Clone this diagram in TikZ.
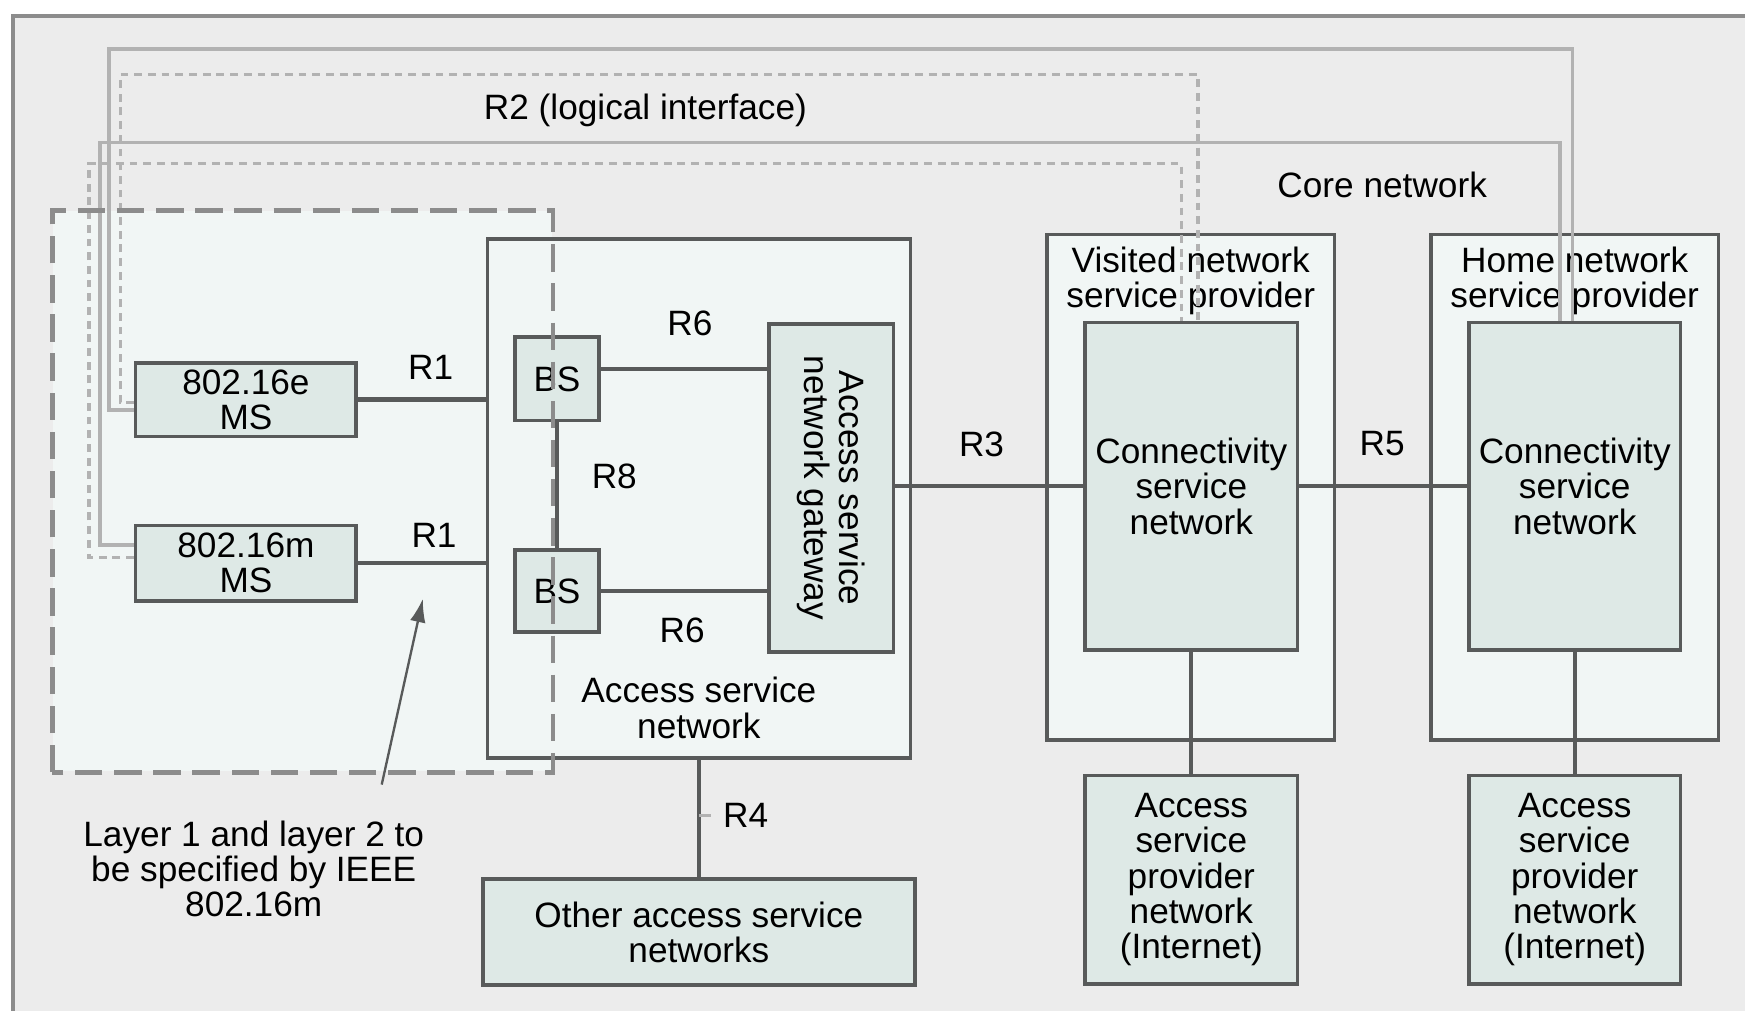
\documentclass[tikz,border=0pt]{standalone}
\usepackage{fontspec}
\setmainfont{Liberation Sans}
\definecolor{main}{RGB}{236,236,236}
\definecolor{second}{RGB}{241,246,245}
\definecolor{third}{RGB}{222,233,230}
\definecolor{fourth}{RGB}{88,90,90}
\definecolor{fifth}{RGB}{178,178,178}
\definecolor{sixth}{RGB}{140,140,140}
\usetikzlibrary{
	arrows.meta,
	positioning
}
\tikzset{
  % frame
	cstframe/.style   ={draw=sixth,line width=1pt},
  % boxes
	cstcont/.style    ={fill=second,draw=fourth,line width=0.9pt,inner sep=0pt},
	cstnode/.style    ={fill=third,draw=fourth,line width=0.9pt,align=center,inner sep=0pt},
	csttext/.style    ={align=center,inner sep=1pt},
  % lines
	cstlink/.style    ={draw=fourth,line width=1.1pt},
	cstloop/.style    ={draw=fifth,line width=1pt},
	cstloopd/.style   ={draw=fifth,line width=0.8pt,dash pattern=on 2pt off 1.5pt},
	cstlayer/.style   ={draw=sixth,line width=1.2pt,dash pattern=on 7pt off 3pt},
	csttick/.style    ={draw=fifth,line width=0.8pt},
	cstra/.style      ={-{Latex[length=6pt,width=4pt]},draw=fourth,line width=0.6pt},
	every node/.append style={font=\fontsize{9}{9}\selectfont}
}
\begin{document}
\begin{tikzpicture}[x=0.01cm,y=-0.01cm]
	\useasboundingbox (0,0) rectangle (1568,908);
	\fill[main] (12,14) rectangle (1568,908);
	\draw[cstframe] (12,908) -- (12,14) -- (1568,14);

	% layer 1 and 2 area
	\node[fill=second,minimum width=4.48cm,minimum height=5.03cm,inner sep=0pt] (layer) at (272,441.5) {};

	% access service network
	\node[cstcont,minimum width=3.80cm,minimum height=4.66cm] (asn) at (628,448) {};
	\node[csttext] (asntext) at (628,636) {Access service\\network};
	\node[cstnode,minimum width=0.75cm,minimum height=0.75cm] (bs1) at (500.5,340.5) {BS};
	\node[cstnode,minimum width=0.75cm,minimum height=0.74cm] (bs2) at (500.5,531) {BS};
	\node[cstnode,minimum width=1.12cm,minimum height=2.95cm] (gw) at (747,438.5) {};
	\node[csttext,rotate=-90] (gwtext) at (gw) {Access service\\network gateway};

	% mobile stations
	\node[cstnode,minimum width=1.98cm,minimum height=0.66cm] (ms1) at (221,359) {802.16e\\MS};
	\node[cstnode,minimum width=1.98cm,minimum height=0.68cm] (ms2) at (221,506) {802.16m\\MS};

	% network service providers
	\node[cstcont,minimum width=2.58cm,minimum height=4.54cm] (vnsp) at (1070,438) {};
	\node[csttext,below=0.08cm of vnsp.north] (vnsptext) {Visited network\\service provider};
	\node[cstnode,minimum width=1.91cm,minimum height=2.94cm] (vcsn) at (1070.5,437) {Connectivity\\service\\network};
	\node[cstcont,minimum width=2.58cm,minimum height=4.54cm] (hnsp) at (1415,438) {};
	\node[csttext,below=0.08cm of hnsp.north] (hnsptext) {Home network\\service provider};
	\node[cstnode,minimum width=1.90cm,minimum height=2.94cm] (hcsn) at (1415,437) {Connectivity\\service\\network};

	% lower boxes
	\node[cstnode,minimum width=1.91cm,minimum height=1.87cm] (vasp) at (1070.5,790.5) {Access\\service\\provider\\network\\(Internet)};
	\node[cstnode,minimum width=1.90cm,minimum height=1.87cm] (hasp) at (1415,790.5) {Access\\service\\provider\\network\\(Internet)};
	\node[cstnode,minimum width=3.88cm,minimum height=0.95cm] (other) at (628,837.5) {Other access service\\networks};

	% reference points
	\draw[cstlink] (ms1.east) -- (ms1.east -| asn.west);
	\draw[cstlink] (ms2.east) -- (ms2.east -| asn.west);
	\draw[cstlink] ([yshift=0.09cm]bs1.east) -- ([yshift=0.09cm]bs1.east -| gw.west);
	\draw[cstlink] (bs2.east) -- (bs2.east -| gw.west);
	\draw[cstlink] (vcsn.west -| gw.east) -- (vcsn.west);
	\draw[cstlink] (vcsn.east) -- (hcsn.west);
	\draw[cstlink] (vcsn.south) -- (vasp.north);
	\draw[cstlink] (hcsn.south) -- (hasp.north);
	\draw[cstlink] (asn.south) -- (other.north);

	\node[csttext] (r1a) at (387,330) {R1};
	\node[csttext] (r1b) at (390,481) {R1};
	\node[csttext] (r6a) at (620,291) {R6};
	\node[csttext] (r6b) at (613,566) {R6};
	\node[csttext] (r8) at (552,428) {R8};
	\node[csttext] (r3) at (882,399) {R3};
	\node[csttext] (r5) at (1242,399) {R5};
	\node[csttext] (r4) at (670,733) {R4};
	\draw[csttick,shorten <=2pt] (r4.west) -- (r4.west -| asn.south);

	% R2 loops
	\draw[cstloop] ([yshift=-0.09cm]ms1.west) -| (98,44) -| ([xshift=-0.02cm]hcsn.north);
	\draw[cstloopd] ([yshift=-0.03cm]ms1.west) -| (108,67) -| ([xshift=0.06cm]vcsn.north);
	\draw[cstloop] ([yshift=0.16cm]ms2.west) -| (90,128) -| ([xshift=-0.13cm]hcsn.north);
	\draw[cstloopd] ([yshift=0.05cm]ms2.west) -| (80,147) -| ([xshift=-0.09cm]vcsn.north);
	\node[csttext] (r2) at (580,99) {R2 (logical interface)};
	\node[csttext] (core) at (1242,166) {Core network};

	% layer border
	\draw[cstlayer] (layer.south west) rectangle (layer.north east);
	\draw[cstlink] (bs1) -- (bs2);

	% note
	\node[csttext] (note) at (228,781) {Layer 1 and layer 2 to\\be specified by IEEE\\802.16m};
	\coordinate (tail) at (343,705);
	\coordinate (tip) at (380,538);
	\draw[cstra] (tail) -- (tip);
\end{tikzpicture}
\end{document}
